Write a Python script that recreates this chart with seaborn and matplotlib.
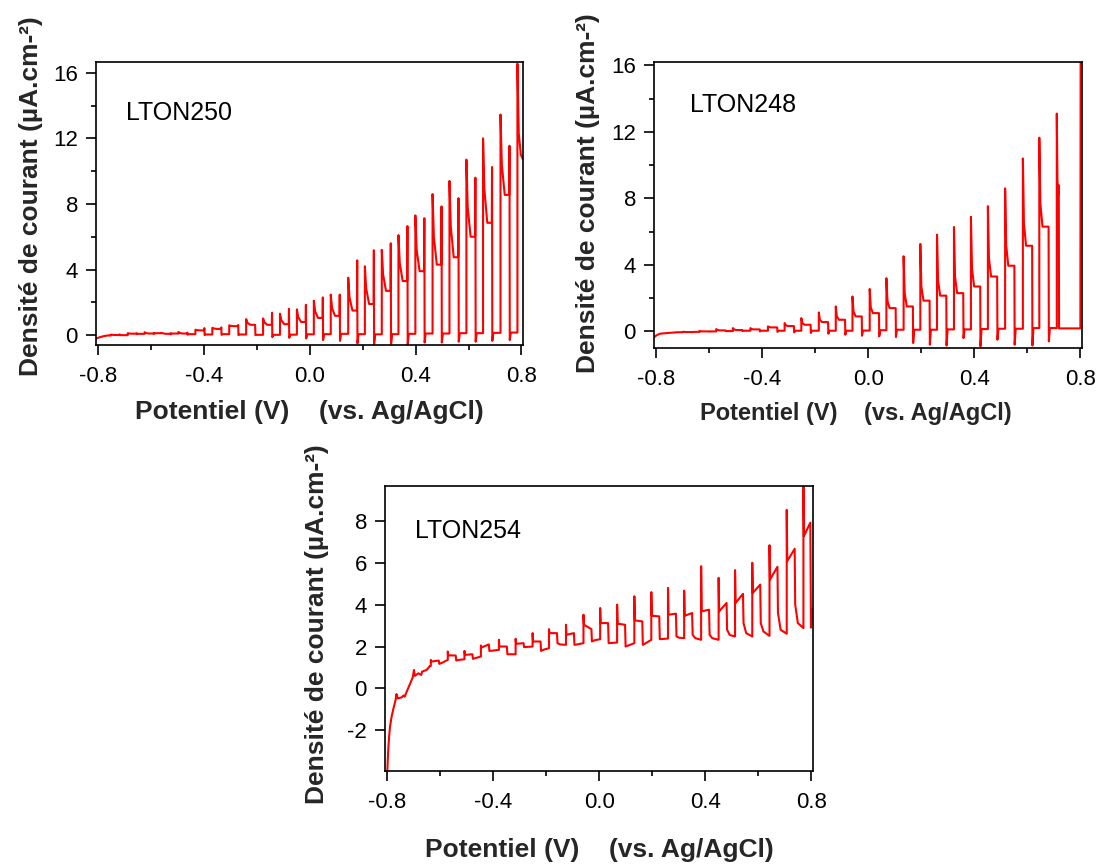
import matplotlib
matplotlib.use("Agg")
import matplotlib.pyplot as plt
import numpy as np
import pandas as pd
import seaborn as sns
from matplotlib.ticker import MultipleLocator, FormatStrFormatter

# ---------------- DATA ----------------
sample_names = ["LTON250", "LTON248", "LTON254"]
x_label = "Potentiel (V)    (vs. Ag/AgCl)"
y_label = "Densité de courant (µA.cm-²)"

# LTON250 : initial part, chopped-light cycles (on potential, on-spike, knee,
# steady photocurrent, off-spike, negative overshoot, dark level), final tail
x1_init = [-0.808, -0.795, -0.780, -0.765]
y1_init = [-0.20, -0.13, -0.06, -0.02]
on1 = [-0.753, -0.689, -0.625, -0.561, -0.497, -0.433, -0.369, -0.305, -0.241, -0.177,
       -0.113, -0.049, 0.015, 0.079, 0.145, 0.208, 0.272, 0.335, 0.399, 0.464,
       0.528, 0.592, 0.655, 0.721]
peak1 = [0.03, 0.12, 0.18, 0.14, 0.20, 0.33, 0.45, 0.60, 0.98, 1.02, 1.31, 1.57, 2.10,
         2.47, 3.50, 4.20, 5.20, 6.10, 7.30, 8.60, 9.40, 10.70, 12.00, 13.45]
knee1 = [0.02, 0.10, 0.13, 0.11, 0.13, 0.31, 0.41, 0.57, 0.75, 0.78, 0.92, 1.10, 1.45,
         1.65, 2.30, 2.85, 3.70, 4.40, 5.20, 6.00, 6.60, 7.80, 8.90, 10.40]
steady1 = [0.01, 0.09, 0.10, 0.08, 0.10, 0.29, 0.38, 0.55, 0.63, 0.63, 0.67, 0.80, 1.05,
           1.18, 1.50, 1.90, 2.70, 3.30, 3.90, 4.30, 4.75, 6.00, 6.85, 8.55]
offpeak1 = [0.05, 0.12, 0.12, 0.12, 0.15, 0.43, 0.47, 0.62, 0.63, 1.37, 1.60, 1.85, 2.30,
            2.47, 4.56, 5.18, 5.60, 6.65, 7.13, 7.85, 8.35, 9.60, 10.25, 11.55]
neg1 = [0.00, 0.06, 0.08, 0.05, 0.03, 0.00, 0.02, 0.00, 0.00, -0.12, -0.16, -0.20, -0.30,
        -0.35, -0.50, -0.55, -0.60, -0.60, -0.45, -0.45, -0.40, -0.40, -0.35, -0.30]
dark1 = [0.00, 0.08, 0.12, 0.10, 0.06, 0.04, 0.06, 0.04, 0.02, 0.02, 0.03, 0.05, 0.06,
         0.08, 0.06, 0.05, 0.06, 0.08, 0.10, 0.10, 0.12, 0.12, 0.14, 0.16]
x1_tail = [0.785, 0.785, 0.790, 0.798, 0.806]
y1_tail = [0.16, 16.55, 12.30, 11.00, 10.70]

# LTON248
x2_init = [-0.808, -0.800, -0.787, -0.760, -0.720]
y2_init = [-0.35, -0.24, -0.14, -0.10, -0.05]
on2 = [-0.700, -0.637, -0.574, -0.511, -0.445, -0.379, -0.316, -0.253, -0.187, -0.123,
       -0.060, 0.005, 0.068, 0.133, 0.196, 0.259, 0.323, 0.387, 0.451, 0.516, 0.583, 0.645]
peak2 = [-0.02, 0.03, 0.14, 0.20, 0.20, 0.30, 0.50, 0.80, 1.14, 1.50, 2.10, 2.55, 3.20,
         4.52, 5.26, 5.82, 6.28, 6.89, 7.53, 8.60, 10.40, 11.65]
knee2 = [-0.03, 0.01, 0.09, 0.12, 0.14, 0.27, 0.38, 0.50, 0.70, 0.90, 1.20, 1.45, 1.85,
         2.30, 2.70, 3.05, 3.30, 3.80, 4.40, 5.20, 6.50, 7.70]
steady2 = [-0.04, 0.00, 0.06, 0.08, 0.12, 0.24, 0.32, 0.40, 0.56, 0.70, 0.90, 1.10, 1.40,
           1.50, 1.85, 2.15, 2.30, 2.70, 3.30, 3.95, 5.15, 6.30]
neg2 = [-0.05, -0.01, 0.02, 0.02, 0.00, -0.03, -0.06, -0.10, -0.14, -0.20, -0.26, -0.30,
        -0.34, -0.70, -0.80, -0.85, -0.40, -0.90, -0.50, -0.80, -0.85, -0.60]
dark2 = [-0.03, 0.00, 0.02, 0.04, 0.04, 0.04, 0.04, 0.04, 0.04, 0.04, 0.05, 0.07, 0.10,
         0.10, 0.10, 0.12, 0.12, 0.14, 0.16, 0.16, 0.20, 0.20]
x2_tail = [0.711, 0.711, 0.7135, 0.718, 0.7185, 0.7195, 0.800, 0.801]
y2_tail = [0.20, 13.10, 9.00, 8.30, 8.80, 0.18, 0.18, 17.00]

# LTON254
x3_init = [-0.8000, -0.7980, -0.7960, -0.7930, -0.7900, -0.7840, -0.7770, -0.7690,
           -0.7655, -0.7610, -0.7460, -0.7390, -0.7350, -0.7270, -0.7140, -0.7040,
           -0.6995, -0.6960, -0.6830, -0.6720, -0.6690, -0.6520, -0.6390]
y3_init = [-3.95, -3.30, -2.80, -2.25, -1.84, -1.36, -0.96, -0.56, -0.27, -0.48, -0.43,
           -0.34, -0.40, -0.16, 0.24, 0.53, 0.88, 0.60, 0.72, 0.64, 0.80, 0.88, 1.07]
on3 = [-0.636, -0.572, -0.509, -0.447, -0.379, -0.316, -0.252, -0.190, -0.126, -0.060,
       0.003, 0.067, 0.132, 0.196, 0.259, 0.320, 0.384, 0.450, 0.512, 0.577, 0.642, 0.707]
peak3 = [1.36, 1.76, 1.79, 2.05, 2.32, 2.37, 2.64, 2.83, 3.04, 3.52, 3.84, 4.00, 4.40,
         4.60, 4.80, 4.67, 5.84, 5.28, 5.65, 6.00, 6.84, 8.53]
pstart3 = [1.28, 1.58, 1.60, 1.95, 2.00, 2.13, 2.24, 2.64, 2.56, 3.04, 3.12, 3.09, 3.25,
           3.47, 3.52, 3.47, 3.68, 3.68, 4.08, 4.56, 5.20, 6.08]
pend3 = [1.33, 1.57, 1.63, 2.10, 2.00, 2.16, 2.24, 2.64, 2.64, 2.83, 3.12, 3.04, 3.20,
         3.44, 3.57, 3.60, 3.76, 4.08, 4.52, 4.96, 5.81, 6.67]
drop3 = [1.17, 1.33, 1.41, 1.79, 1.63, 1.97, 1.79, 2.16, 2.08, 2.24, 2.16, 2.00, 2.08,
         2.35, 2.48, 2.56, 2.56, 2.80, 3.12, 3.12, 3.60, 4.00]
mid3 = [1.22, 1.36, 1.45, 1.80, 1.63, 1.98, 1.85, 2.10, 2.10, 2.30, 2.17, 2.05, 2.15,
        2.36, 2.42, 2.40, 2.40, 2.55, 2.64, 2.72, 2.80, 3.12]
dark3 = [1.36, 1.39, 1.52, 1.84, 1.63, 2.00, 1.92, 2.08, 2.16, 2.35, 2.19, 2.16, 2.32,
         2.38, 2.40, 2.32, 2.32, 2.48, 2.48, 2.51, 2.61, 2.88]
x3_tail = [0.770, 0.770, 0.772, 0.796, 0.7985, 0.802]
y3_tail = [2.88, 9.65, 7.28, 7.92, 2.90, 3.80]

y_limits = [(-0.6, 16.65), (-1.0, 16.2), (-3.95, 9.67)]
x_limits = (-0.809, 0.806)


# ---------------- path builders ----------------
def spike_path(init_x, init_y, on, dur, peak, knee, steady, offpeak, neg, dark,
               tail_x, tail_y, t_knee, t_flat):
    xs, ys = list(init_x), list(init_y)
    prev = ys[-1]
    for i, x0 in enumerate(on):
        x1 = x0 + dur
        xs += [x0, x0, x0 + t_knee, x0 + t_flat, x1, x1 + 0.001, x1 + 0.002, x1 + 0.006]
        ys += [prev, peak[i], knee[i], steady[i], steady[i], offpeak[i], neg[i], dark[i]]
        prev = dark[i]
    xs += list(tail_x)
    ys += list(tail_y)
    return pd.DataFrame({"E": xs, "j": ys})


def plateau_path(init_x, init_y, on, dur, peak, pstart, pend, drop, mid, dark,
                 tail_x, tail_y):
    xs, ys = list(init_x), list(init_y)
    prev = ys[-1]
    for i, x0 in enumerate(on):
        x1 = x0 + dur
        nxt = on[i + 1] if i + 1 < len(on) else tail_x[0]
        xs += [x0, x0, x0 + 0.002, x1, x1 + 0.002, x1 + 0.012, nxt]
        ys += [prev, peak[i], pstart[i], pend[i], drop[i], mid[i], dark[i]]
        prev = dark[i]
    xs += list(tail_x)
    ys += list(tail_y)
    return pd.DataFrame({"E": xs, "j": ys})


df1 = spike_path(x1_init, y1_init, on1, 0.033, peak1, knee1, steady1, offpeak1, neg1,
                 dark1, x1_tail, y1_tail, 0.005, 0.016)
df2 = spike_path(x2_init, y2_init, on2, 0.034, peak2, knee2, steady2, steady2, neg2,
                 dark2, x2_tail, y2_tail, 0.004, 0.012)
df3 = plateau_path(x3_init, y3_init, on3, 0.030, peak3, pstart3, pend3, drop3, mid3,
                   dark3, x3_tail, y3_tail)

# ---------------- styling ----------------
sns.set_style("ticks")
plt.rcParams["font.family"] = ["Liberation Sans", "DejaVu Sans"]
plt.rcParams["axes.unicode_minus"] = False

fig = plt.figure(figsize=(10.98, 8.64), dpi=100)
axes_rects = [
    [0.0874, 0.6007, 0.3889, 0.3275],
    [0.5956, 0.5972, 0.3898, 0.3310],
    [0.3506, 0.1076, 0.3898, 0.3299],
]
frames = [df1, df2, df3]
ymajor = [4, 4, 2]
yminor = [2, 2, None]
xlab_size = [19, 17, 19]
ylab_coords = [(-0.125, 0.526), (-0.126, 0.542), (-0.131, 0.516)]
xlab_coords = [(0.5, -0.194), (0.472, -0.189), (0.5, -0.235)]
name_pos = [(0.070, 0.82), (0.084, 0.85), (0.070, 0.842)]

for k in range(3):
    ax = fig.add_axes(axes_rects[k])
    sns.lineplot(data=frames[k], x="E", y="j", sort=False, estimator=None, ax=ax,
                 color="#ff0000", linewidth=1.5)
    ax.set_xlim(*x_limits)
    ax.set_ylim(*y_limits[k])
    ax.xaxis.set_major_locator(MultipleLocator(0.4))
    ax.xaxis.set_minor_locator(MultipleLocator(0.2))
    ax.xaxis.set_major_formatter(FormatStrFormatter("%.1f"))
    ax.yaxis.set_major_locator(MultipleLocator(ymajor[k]))
    if yminor[k]:
        ax.yaxis.set_minor_locator(MultipleLocator(yminor[k]))
    ax.yaxis.set_major_formatter(FormatStrFormatter("%d"))
    ax.tick_params(axis="both", which="major", direction="out", length=7, width=1.2,
                   labelsize=16, color="black", labelcolor="black")
    ax.tick_params(axis="both", which="minor", direction="out", length=3.6, width=1.2,
                   color="black")
    ax.tick_params(axis="x", which="major", pad=8)
    ax.tick_params(axis="y", which="major", pad=6)
    for sp in ax.spines.values():
        sp.set_visible(True)
        sp.set_linewidth(1.2)
        sp.set_color("black")
    ax.set_xlabel(x_label, fontsize=xlab_size[k], fontweight="bold")
    ax.set_ylabel(y_label, fontsize=19, fontweight="bold")
    ax.yaxis.set_label_coords(*ylab_coords[k])
    ax.xaxis.set_label_coords(*xlab_coords[k])
    ax.text(name_pos[k][0], name_pos[k][1], sample_names[k], transform=ax.transAxes,
            fontsize=18, ha="left", va="center", color="black")

fig.savefig("out.png", dpi=100, facecolor="white")
